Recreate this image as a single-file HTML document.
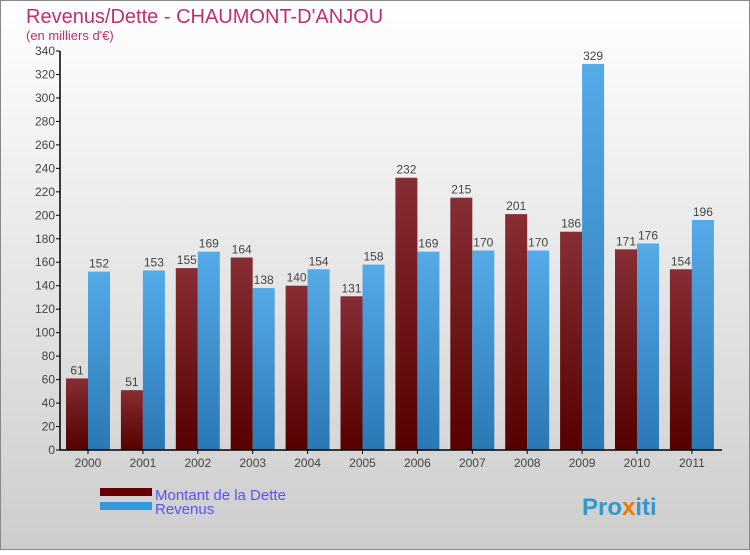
<!DOCTYPE html>
<html><head><meta charset="utf-8"><style>
body{margin:0;width:750px;height:550px;overflow:hidden;font-family:"Liberation Sans",sans-serif}
</style></head><body>
<svg width="750" height="550" viewBox="0 0 750 550">
<defs>
<linearGradient id="bg" x1="0" y1="0" x2="0" y2="1"><stop offset="0" stop-color="#ffffff"/><stop offset="1" stop-color="#cdcdcd"/></linearGradient>
<linearGradient id="gd" x1="0" y1="0" x2="0" y2="1"><stop offset="0" stop-color="#862e34"/><stop offset="1" stop-color="#560000"/></linearGradient>
<linearGradient id="gr" x1="0" y1="0" x2="0" y2="1"><stop offset="0" stop-color="#55aae8"/><stop offset="1" stop-color="#2a78b4"/></linearGradient>
</defs>
<rect x="0.5" y="0.5" width="749" height="549" fill="url(#bg)" stroke="#888"/>
<text x="26" y="23" font-size="20" fill="#c0306a">Revenus/Dette - CHAUMONT-D'ANJOU</text>
<text x="26" y="40" font-size="13" fill="#c0306a">(en milliers d'€)</text>
<g id="plot"></g>
<rect x="100" y="488" width="52" height="8" fill="#660000"/>
<text x="155" y="500" font-size="15" fill="#5555ee">Montant de la Dette</text>
<rect x="100" y="502" width="52" height="8" fill="#3399dd"/>
<text x="155" y="514" font-size="15" fill="#5555ee">Revenus</text>
<text x="582" y="515" font-size="24" font-weight="bold" fill="#3399cc">Pro<tspan fill="#ee7700">x</tspan>iti</text>
</svg>
<script>
const years=["2000","2001","2002","2003","2004","2005","2006","2007","2008","2009","2010","2011"];
const dette=[61,51,155,164,140,131,232,215,201,186,171,154];
const revenus=[152,153,169,138,154,158,169,170,170,329,176,196];
const yTicks=[0,20,40,60,80,100,120,140,160,180,200,220,240,260,280,300,320,340];
const NS="http://www.w3.org/2000/svg";
const g=document.getElementById('plot');
const x0=60,y0=450,yTop=51,yMax=340,c0=88,step=54.9,bw=22;
const y=v=>y0-(v/yMax)*(y0-yTop);
const cx=i=>c0+i*step;
function mk(t,a){const e=document.createElementNS(NS,t);for(const k in a)e.setAttribute(k,a[k]);g.appendChild(e);return e;}
yTicks.forEach(v=>{
 const l=mk('line',{x1:x0-4,x2:x0,y1:y(v),y2:y(v),stroke:'#000'});
 
 
 const t=mk('text',{x:x0-5,y:y(v)+4,'font-size':12,fill:'#444','text-anchor':'end'});
 t.textContent=v;
 
 
});
years.forEach((yr,i)=>{
 const c=cx(i);
 const b1=mk('rect',{x:c-bw,y:y(dette[i]),width:bw,height:y0-y(dette[i]),fill:'url(#gd)'});
 
 
 const b2=mk('rect',{x:c,y:y(revenus[i]),width:bw,height:y0-y(revenus[i]),fill:'url(#gr)'});
 
 
 const t1=mk('text',{x:c-bw/2,y:y(dette[i])-4,'font-size':12,fill:'#444','text-anchor':'middle'});
 t1.textContent=dette[i];
 
 
 const t2=mk('text',{x:c+bw/2,y:y(revenus[i])-4,'font-size':12,fill:'#444','text-anchor':'middle'});
 t2.textContent=revenus[i];
 
 
 const tk=mk('line',{x1:c,x2:c,y1:y0,y2:y0+4,stroke:'#000'});
 
 
 const xl=mk('text',{x:c,y:y0+17,'font-size':12,fill:'#444','text-anchor':'middle'});
 xl.textContent=yr;
 
 
});
const ya=mk('line',{x1:x0,x2:x0,y1:yTop,y2:y0,stroke:'#000','stroke-width':1.5});


const xa=mk('line',{x1:x0,x2:722,y1:y0,y2:y0,stroke:'#000','stroke-width':1.5});


</script>
</body></html>
